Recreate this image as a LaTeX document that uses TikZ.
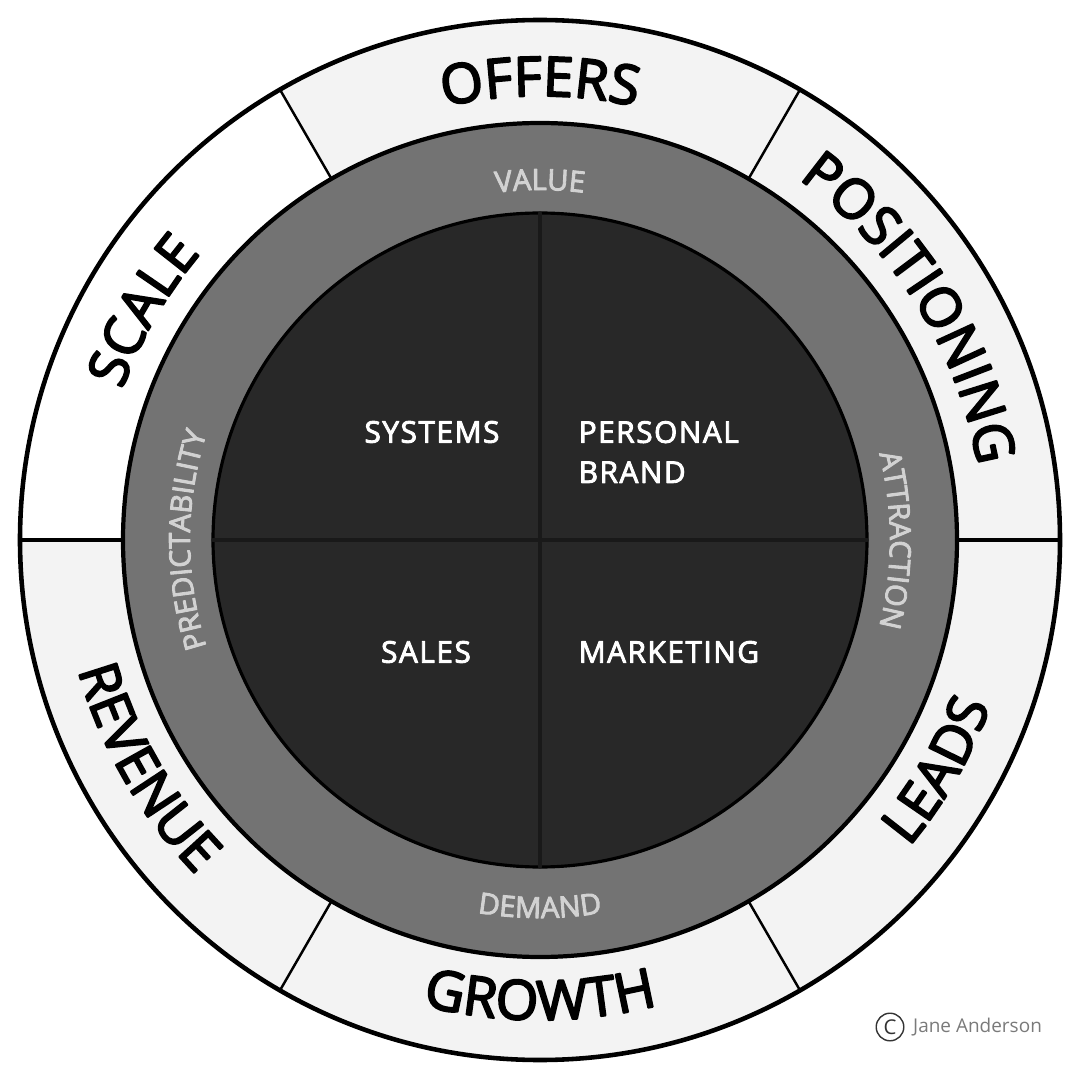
\documentclass[tikz,border=0pt]{standalone}
\usepackage{fontspec}
\setmainfont{Open Sans}
\newfontfamily\bandfamily[FakeBold=3.5]{Open Sans}
\newfontfamily\corefamily[FakeBold=3,LetterSpace=5]{Open Sans}
\newfontfamily\ringfamily[FakeBold=3]{Open Sans}
\usetikzlibrary{decorations.text,positioning}
\definecolor{paleband}{HTML}{F3F3F3}
\definecolor{ringgray}{HTML}{737373}
\definecolor{coredark}{HTML}{282828}
\definecolor{ringtext}{HTML}{D2D2D2}
\definecolor{notegray}{HTML}{7A7A7A}
\newcommand\bandfont{\bandfamily\fontsize{15.6}{18}\selectfont}
\newcommand\ringfont{\ringfamily\fontsize{8.3}{9}\selectfont}
\newcommand\corefont{\corefamily\fontsize{8.5}{11.4}\selectfont}
\tikzset{
  bandlabel/.style={decorate, decoration={text along path, text align=center, text color=black, text={|\bandfont|#1}}},
  ringlabel/.style={decorate, decoration={text along path, text align=center, text color=ringtext, text={|\ringfont|#1}}},
  corelabel/.style={text=white, font=\corefont, inner sep=0pt},
}
\begin{document}
\begin{tikzpicture}[line join=round, line cap=round]
	\def\Rout{5.2} \def\Rring{4.17} \def\Rcore{3.27}
	\def\rtop{4.44} \def\rbot{4.80}
	\useasboundingbox (-5.4,-5.4) rectangle (5.4,5.4);
	%\draw[color=gray!50,dashed] (-5.4,-5.4) grid (5.4,5.4);
	\fill[paleband] (0,0) circle (\Rout);
	\fill[white] (0,0)--(120:\Rout) arc[start angle=120, end angle=180, radius=\Rout]--cycle;
	\fill[ringgray] (0,0) circle (\Rring);
	\fill[coredark] (0,0) circle (\Rcore);
	\foreach \a in {60,120,240,300} \draw[line width=0.7pt] (\a:\Rring)--(\a:\Rout);
	\draw[line width=1.1pt] (0:\Rring)--(0:\Rout) (180:\Rring)--(180:\Rout);
	\draw[line width=1.3pt] (0,0) circle (\Rout);
	\draw[line width=1.2pt] (0,0) circle (\Rring);
	\draw[line width=0.9pt] (0,0) circle (\Rcore);
	\draw[line width=0.9pt, black!90] (90:\Rcore)--(270:\Rcore) (180:\Rcore)--(0:\Rcore);
	% outer band
	\path[bandlabel=SCALE] (180:\rtop) arc[start angle=180, end angle=120, radius=\rtop];
	\path[bandlabel=OFFERS] (120:\rtop) arc[start angle=120, end angle=60, radius=\rtop];
	\path[bandlabel=POSITIONING] (62:\rtop) arc[start angle=62, end angle=2, radius=\rtop];
	\path[bandlabel=LEADS] (300:\rbot) arc[start angle=300, end angle=360, radius=\rbot];
	\path[bandlabel=GROWTH] (240:\rbot) arc[start angle=240, end angle=300, radius=\rbot];
	\path[bandlabel=REVENUE] (180:\rbot) arc[start angle=180, end angle=240, radius=\rbot];
	% gray ring
	\path[ringlabel=VALUE] (120:3.5) arc[start angle=120, end angle=60, radius=3.5];
	\path[ringlabel=ATTRACTION] (40:3.5) arc[start angle=40, end angle=-40, radius=3.5];
	\path[ringlabel=DEMAND] (240:3.78) arc[start angle=240, end angle=300, radius=3.78];
	\path[ringlabel=PREDICTABILITY] (220:3.5) arc[start angle=220, end angle=140, radius=3.5];
	% core
	\node[corelabel] (systems) at (-1.08,1.08) {SYSTEMS};
	\node[corelabel, anchor=west, align=left] (brand) at (0.38,0.88) {PERSONAL\\BRAND};
	\node[corelabel] (sales) at (-1.14,-1.12) {SALES};
	\node[corelabel, anchor=west] (marketing) at (0.38,-1.12) {MARKETING};
	\node[circle, draw=black!80, line width=0.4pt, inner sep=0.8pt, text=black!80, font=\fontsize{5.8}{6}\selectfont] (copymark) at (3.5,-4.87) {C};
	\node[right=0.8mm of copymark, text=notegray, inner sep=0pt, font=\fontsize{5.4}{6}\selectfont] (author) {Jane Anderson};
\end{tikzpicture}
\end{document}
